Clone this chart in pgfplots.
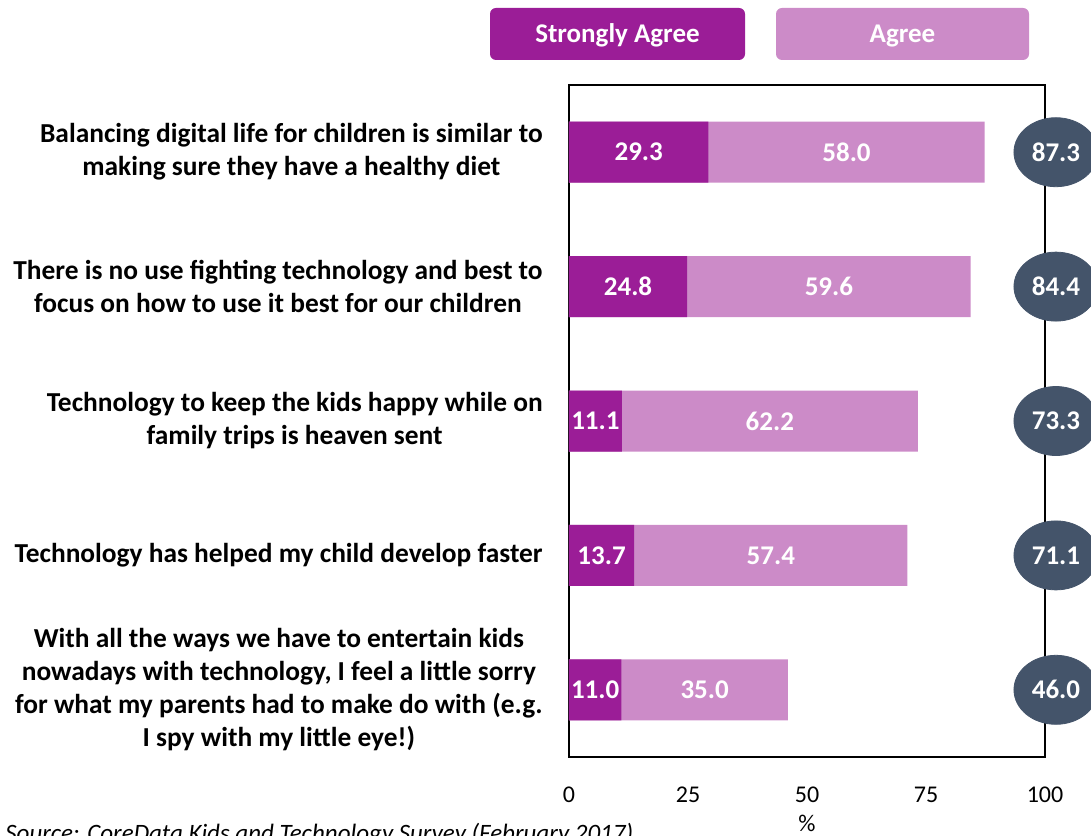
\documentclass[border=0pt]{standalone}
\usepackage{pgfplots}
\pgfplotsset{compat=1.18}
\usepackage{fontspec}
\setmainfont{Carlito}
\definecolor{sa}{RGB}{155,29,151}
\definecolor{ag}{RGB}{204,139,200}
\definecolor{tot}{RGB}{68,84,106}
\begin{document}
\begin{tikzpicture}
\begin{axis}[
  scale only axis, width=238pt, height=336pt,
  xmin=0, xmax=100, ymin=-0.5, ymax=4.5, y dir=reverse,
  xtick={0,25,50,75,100},
  ytick={0,1,2,3,4},
  yticklabels={
    {Balancing digital life for children is similar to\\making sure they have a healthy diet},
    {There is no use fighting technology and best to\\focus on how to use it best for our children},
    {Technology to keep the kids happy while on\\family trips is heaven sent},
    {Technology has helped my child develop faster},
    {With all the ways we have to entertain kids\\nowadays with technology, I feel a little sorry\\for what my parents had to make do with (e.g.\\I spy with my little eye!)}},
  major tick length=0pt,
  axis line style={line width=0.75pt},
  clip=false,
  /pgf/number format/assume math mode=true,
  xticklabel style={font=\fontsize{12}{14}\selectfont, inner sep=0pt, anchor=north, text height=22.6pt, text depth=0pt},
  yticklabel style={align=center, font=\bfseries\fontsize{13.7}{16.5}\selectfont, inner sep=0pt, xshift=-13pt},
  xlabel={\%},
  xlabel style={at={(axis description cs:0.5,0)}, anchor=north, inner sep=0pt, yshift=-29pt, font=\fontsize{12}{14}\selectfont},
]
% totals (Strongly Agree + Agree)
\addplot[xbar, bar width=30.5pt, bar shift=0pt, fill=ag, draw=none]
  coordinates {(87.3,0) (84.4,1) (73.3,2) (71.1,3) (46.0,4)};
% Strongly Agree
\addplot[xbar, bar width=30.5pt, bar shift=0pt, fill=sa, draw=none]
  coordinates {(29.3,0) (24.8,1) (11.1,2) (13.7,3) (11.0,4)};
% segment labels
\addplot[draw=none, mark=none, nodes near coords, point meta=explicit symbolic,
  nodes near coords style={anchor=center, inner sep=0pt, text=white, font=\bfseries\fontsize{13.5}{16}\selectfont}]
  coordinates {(14.65,0)[29.3] (12.4,1)[24.8] (5.55,2)[11.1] (6.85,3)[13.7] (5.5,4)[11.0]
               (58.3,0)[58.0] (54.6,1)[59.6] (42.2,2)[62.2] (42.4,3)[57.4] (28.5,4)[35.0]};
% totals ellipses
\addplot[only marks, color=tot, mark=*, mark size=17.25pt, mark options={fill=tot, draw=tot, xscale=1.217},
  nodes near coords, point meta=explicit symbolic,
  nodes near coords style={anchor=center, inner sep=0pt, text=white, font=\bfseries\fontsize{13.5}{16}\selectfont}]
  coordinates {(102.3,0)[87.3] (102.3,1)[84.4] (102.3,2)[73.3] (102.3,3)[71.1] (102.3,4)[46.0]};
\coordinate (SW) at (axis description cs:0,0);
\coordinate (NE) at (axis description cs:1,1);
\end{axis}
\pgfresetboundingbox
\useasboundingbox ([xshift=-284.5pt, yshift=-39pt]SW) rectangle ([xshift=23pt, yshift=42.5pt]NE);
% legend
\fill[sa, rounded corners=3pt] ([xshift=-39.5pt,yshift=348.5pt]SW) rectangle ([xshift=88pt,yshift=374.5pt]SW);
\fill[ag, rounded corners=3pt] ([xshift=103.5pt,yshift=348.5pt]SW) rectangle ([xshift=230pt,yshift=374.5pt]SW);
\node[anchor=base, text=white, font=\bfseries\fontsize{13.5}{16}\selectfont, inner sep=0pt] at ([xshift=24.25pt,yshift=357pt]SW) {Strongly Agree};
\node[anchor=base, text=white, font=\bfseries\fontsize{13.5}{16}\selectfont, inner sep=0pt] at ([xshift=166.75pt,yshift=357pt]SW) {Agree};
% source
\node[anchor=base west, inner sep=0pt, font=\itshape\fontsize{12.5}{14}\selectfont] at ([xshift=-282pt,yshift=-42pt]SW) {Source: CoreData Kids and Technology Survey (February 2017)};
\end{tikzpicture}
\end{document}
